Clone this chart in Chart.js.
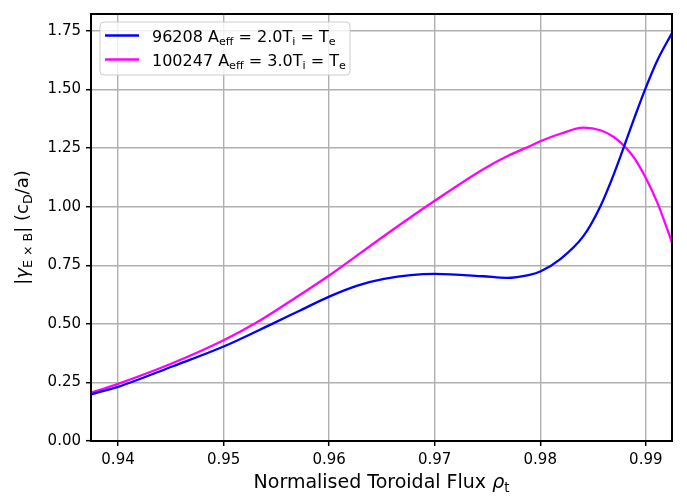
<!DOCTYPE html>
<html>
<head>
<meta charset="utf-8">
<script src="https://cdn.jsdelivr.net/npm/chart.js@4.4.1/dist/chart.umd.min.js"></script>
<style>
  html, body { margin: 0; padding: 0; background: #fff; }
  #wrap { width: 687px; height: 496px; }
</style>
</head>
<body>
<div id="wrap"><canvas id="c" width="687" height="496"></canvas></div>
<script>
// Shear rate profiles |gamma_ExB| vs normalised toroidal flux
const rho96208 = [0.93744, 0.9400, 0.9452, 0.9500, 0.9547, 0.95725, 0.9600, 0.9626, 0.9652,
                  0.9700, 0.9746, 0.9768, 0.9790, 0.9800, 0.9819, 0.9841, 0.9857, 0.9870,
                  0.9889, 0.9900, 0.9911, 0.99248];
const gamma96208 = [0.199, 0.231, 0.319, 0.403, 0.502, 0.557, 0.616, 0.662, 0.692,
                    0.713, 0.703, 0.696, 0.709, 0.723, 0.776, 0.875, 1.002, 1.142,
                    1.377, 1.508, 1.625, 1.741];

const rho100247 = [0.93744, 0.9400, 0.9452, 0.9500, 0.9530, 0.95725, 0.9600, 0.9652, 0.9700,
                   0.9746, 0.9770, 0.9790, 0.9800, 0.9819, 0.9841, 0.9857, 0.9870, 0.9881,
                   0.9889, 0.9900, 0.9911, 0.99248];
const gamma100247 = [0.206, 0.244, 0.333, 0.430, 0.502, 0.624, 0.706, 0.875, 1.025,
                     1.160, 1.218, 1.258, 1.279, 1.311, 1.337, 1.326, 1.296, 1.252,
                     1.208, 1.122, 1.016, 0.847];

const xTicks = [0.94, 0.95, 0.96, 0.97, 0.98, 0.99];
const yTicks = [0.00, 0.25, 0.50, 0.75, 1.00, 1.25, 1.50, 1.75];
const xRange = [0.93744, 0.99248];
const yRange = [0, 1.822];

// Rich-text pieces: [text, mode] where mode is '' (normal), 's' (subscript), 'i' (italic)
const legendItems = [
  { color: '#0000ff', parts: [['96208 A', ''], ['eff', 's'], [' = 2.0T', ''], ['i', 's'], [' = T', ''], ['e', 's']] },
  { color: '#ff00ff', parts: [['100247 A', ''], ['eff', 's'], [' = 3.0T', ''], ['i', 's'], [' = T', ''], ['e', 's']] }
];
const xTitle = [['Normalised Toroidal Flux ', ''], ['\u03C1', 'i'], ['t', 's']];
const yTitle = [['|', ''], ['\u03B3', 'i'], ['E \u00D7 B', 's'], ['| (c', ''], ['D', 's'], ['/a)', '']];

const FONT = "'DejaVu Sans', 'Liberation Sans', sans-serif";

function partFont(mode, size) {
  if (mode === 's') return (size * 0.7).toFixed(1) + 'px ' + FONT;
  if (mode === 'i') return 'italic ' + size + 'px ' + FONT;
  return size + 'px ' + FONT;
}
function richWidth(ctx, parts, size) {
  let w = 0;
  for (const [t, m] of parts) { ctx.font = partFont(m, size); w += ctx.measureText(t).width; }
  return w;
}
function drawRich(ctx, parts, x, y, size) {
  ctx.textBaseline = 'alphabetic';
  ctx.textAlign = 'left';
  let cx = x;
  for (const [t, m] of parts) {
    ctx.font = partFont(m, size);
    const dy = m === 's' ? size * 0.22 : 0;
    ctx.fillText(t, cx, y + dy);
    cx += ctx.measureText(t).width;
  }
}

const decorations = {
  id: 'decorations',
  afterDraw(chart) {
    const ctx = chart.ctx;
    const a = chart.chartArea;
    ctx.save();
    // frame around the plotting area
    ctx.strokeStyle = '#000';
    ctx.lineWidth = 2;
    ctx.strokeRect(a.left, a.top, a.right - a.left, a.bottom - a.top);

    ctx.fillStyle = '#000';
    // x axis title
    const xs = 19;
    const xw = richWidth(ctx, xTitle, xs);
    drawRich(ctx, xTitle, (a.left + a.right) / 2 - xw / 2, 488, xs);
    // y axis title (rotated)
    const ys = 18;
    const yw = richWidth(ctx, yTitle, ys);
    ctx.save();
    ctx.translate(28, (a.top + a.bottom) / 2);
    ctx.rotate(-Math.PI / 2);
    drawRich(ctx, yTitle, -yw / 2, 0, ys);
    ctx.restore();

    // legend box
    const lx = a.left + 9, ly = a.top + 8, lw = 250, lh = 53, r = 4;
    ctx.beginPath();
    ctx.moveTo(lx + r, ly);
    ctx.arcTo(lx + lw, ly, lx + lw, ly + lh, r);
    ctx.arcTo(lx + lw, ly + lh, lx, ly + lh, r);
    ctx.arcTo(lx, ly + lh, lx, ly, r);
    ctx.arcTo(lx, ly, lx + lw, ly, r);
    ctx.closePath();
    ctx.fillStyle = 'rgba(255,255,255,0.8)';
    ctx.fill();
    ctx.strokeStyle = '#cccccc';
    ctx.lineWidth = 1;
    ctx.stroke();
    legendItems.forEach((it, i) => {
      const yy = ly + 13.5 + i * 24;
      ctx.strokeStyle = it.color;
      ctx.lineWidth = 2.5;
      ctx.beginPath();
      ctx.moveTo(lx + 5, yy);
      ctx.lineTo(lx + 39, yy);
      ctx.stroke();
      ctx.fillStyle = '#000';
      drawRich(ctx, it.parts, lx + 52, yy + 6, 16);
    });
    ctx.restore();
  }
};

const toPts = (xs, ys) => xs.map((x, i) => ({ x: x, y: ys[i] }));

function axisCommon(ticksArr) {
  return {
    type: 'linear',
    afterBuildTicks: s => { s.ticks = ticksArr.map(v => ({ value: v })); },
    ticks: {
      callback: v => Number(v).toFixed(2),
      color: '#000',
      font: { family: FONT, size: 15 },
      padding: 5,
      autoSkip: false,
      maxRotation: 0
    },
    grid: {
      color: '#b0b0b0',
      lineWidth: 1.4,
      tickLength: 5,
      tickColor: '#000',
      tickWidth: 1.5
    },
    border: { display: false }
  };
}

const xScale = Object.assign(axisCommon(xTicks), {
  min: xRange[0], max: xRange[1],
  afterFit: s => { s.height = 55; }
});
const yScale = Object.assign(axisCommon(yTicks), {
  min: yRange[0], max: yRange[1],
  afterFit: s => { s.width = 91; }
});

new Chart(document.getElementById('c'), {
  type: 'line',
  data: {
    datasets: [
      {
        label: '96208 Aeff = 2.0Ti = Te',
        data: toPts(rho96208, gamma96208),
        borderColor: '#0000ff',
        borderWidth: 2.3,
        pointRadius: 0,
        cubicInterpolationMode: 'monotone',
        fill: false
      },
      {
        label: '100247 Aeff = 3.0Ti = Te',
        data: toPts(rho100247, gamma100247),
        borderColor: '#ff00ff',
        borderWidth: 2.3,
        pointRadius: 0,
        cubicInterpolationMode: 'monotone',
        fill: false
      }
    ]
  },
  options: {
    responsive: false,
    animation: false,
    devicePixelRatio: 1,
    layout: { padding: { left: 0, right: 15, top: 9, bottom: 0 } },
    plugins: { legend: { display: false }, tooltip: { enabled: false } },
    scales: { x: xScale, y: yScale }
  },
  plugins: [decorations]
});
</script>
</body>
</html>
